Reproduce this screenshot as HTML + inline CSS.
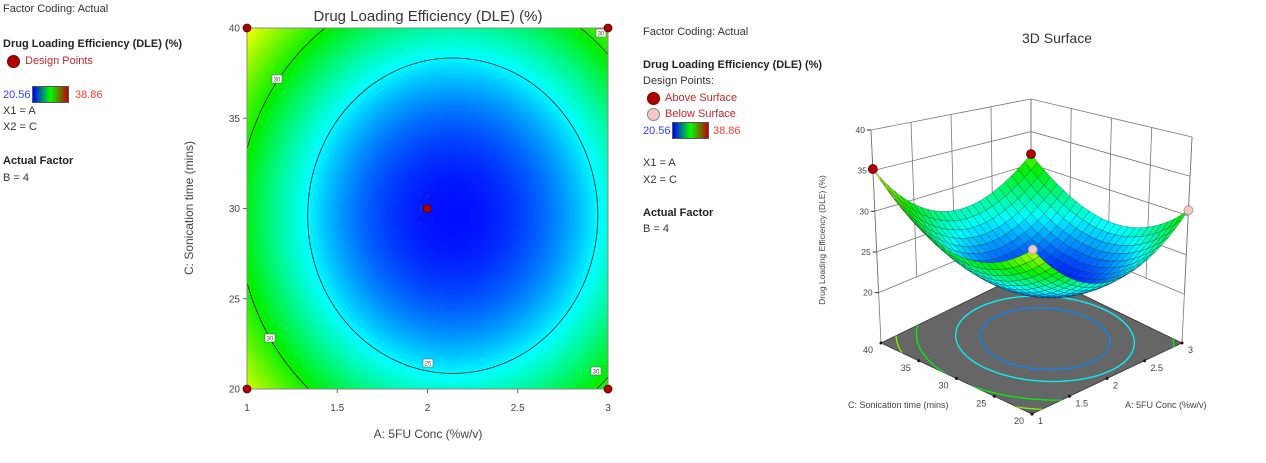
<!DOCTYPE html>
<html><head><meta charset="utf-8">
<style>
body{margin:0;width:1266px;height:463px;background:#fff;font-family:"Liberation Sans",sans-serif;overflow:hidden;position:relative}
.t{position:absolute;font-size:11px;color:#333;white-space:nowrap;line-height:13px}
.b{font-weight:bold;color:#222}
.r{color:#c0282d}
.dot{position:absolute;width:11px;height:11px;border-radius:50%;background:#b00000;border:1px solid #700}
.cb{position:absolute;width:37px;height:17px;background:linear-gradient(to right,#0000ff,#00ff00 50%,#c00000);border:1px solid #555;box-sizing:border-box}
svg{position:absolute;left:0;top:0}
</style></head><body>
<div class="t" style="left:3px;top:3px">Factor Coding: Actual</div>
<div class="t b" style="left:3px;top:38px">Drug Loading Efficiency (DLE) (%)</div>
<div class="dot" style="left:7px;top:55px"></div>
<div class="t r" style="left:25px;top:55px">Design Points</div>
<div class="t" style="left:3px;top:89px;color:#3a3aff">20.56</div>
<div class="cb" style="left:32px;top:86px"></div>
<div class="t" style="left:75px;top:89px;color:#ff3a3a">38.86</div>
<div class="t" style="left:3px;top:105px">X1 = A</div>
<div class="t" style="left:3px;top:121px">X2 = C</div>
<div class="t b" style="left:3px;top:155px">Actual Factor</div>
<div class="t" style="left:3px;top:172px">B = 4</div>

<div class="t" style="left:643px;top:26px">Factor Coding: Actual</div>
<div class="t b" style="left:643px;top:59px">Drug Loading Efficiency (DLE) (%)</div>
<div class="t" style="left:643px;top:75px">Design Points:</div>
<div class="dot" style="left:647px;top:92px"></div>
<div class="t r" style="left:665px;top:92px">Above Surface</div>
<div class="dot" style="left:647px;top:108px;background:#f7c8c8;border-color:#888"></div>
<div class="t r" style="left:665px;top:108px">Below Surface</div>
<div class="t" style="left:643px;top:125px;color:#3a3aff">20.56</div>
<div class="cb" style="left:672px;top:122px"></div>
<div class="t" style="left:713px;top:125px;color:#ff3a3a">38.86</div>
<div class="t" style="left:643px;top:157px">X1 = A</div>
<div class="t" style="left:643px;top:174px">X2 = C</div>
<div class="t b" style="left:643px;top:207px">Actual Factor</div>
<div class="t" style="left:643px;top:223px">B = 4</div>

<canvas id="heat" width="361" height="361" style="position:absolute;left:247px;top:28px"></canvas>
<svg id="sv" width="1266" height="463"></svg>

<script>
// model data (quadratic response surface, B = 4)
const modelCenter = [2.14, 29.6];   // A, C at minimum
const modelMin = [20.8];
const curvature = [6.5, 5.5];       // per coded unit^2 (A, C)
const colorRange = [20.56, 38.86];
const contourLevels = [25, 30];
const floorLevels = [23, 25, 29.5, 32.5, 35];
const designA = [1, 3, 1, 3, 2];
const designC = [40, 40, 20, 20, 30];
const designAbove = [1, 1, 0, 0, 1];
const xTicks = [1, 1.5, 2, 2.5, 3];
const yTicks = [20, 25, 30, 35, 40];
const zTicks = [20, 25, 30, 35, 40];

function f(a, c) {
  const A = a - modelCenter[0], C = (c - modelCenter[1]) / 10;
  return modelMin[0] + curvature[0] * A * A + curvature[1] * C * C;
}
const stops = [[0,[0,0,255]],[0.25,[0,255,255]],[0.5,[0,240,0]],[0.8,[255,255,0]],[1,[255,0,0]]];
function cmap(v) {
  let t = (v - colorRange[0]) / (colorRange[1] - colorRange[0]);
  t = Math.max(0, Math.min(1, t));
  for (let i = 1; i < stops.length; i++) {
    if (t <= stops[i][0]) {
      const [t0, c0] = stops[i-1], [t1, c1] = stops[i];
      const k = (t - t0) / (t1 - t0);
      return c0.map((x, j) => Math.round(x + (c1[j] - x) * k));
    }
  }
  return stops[stops.length-1][1];
}
const rgb = c => `rgb(${c[0]},${c[1]},${c[2]})`;
const NS = "http://www.w3.org/2000/svg";
const sv = document.getElementById('sv');
function el(tag, attrs, parent) {
  const e = document.createElementNS(NS, tag);
  for (const k in attrs) e.setAttribute(k, attrs[k]);
  (parent || sv).appendChild(e);
  return e;
}
function txt(x, y, s, size, anchor, parent, extra) {
  const e = el('text', Object.assign({x, y, 'font-size': size, 'text-anchor': anchor || 'middle', fill: '#444', 'font-family': 'Liberation Sans, sans-serif'}, extra || {}), parent);
  e.textContent = s;
  return e;
}

// ---------- contour plot ----------
const PX = 247, PY = 28, PW = 361, PH = 361;
const xs = a => PX + (a - 1) / 2 * PW;
const ys = c => PY + (40 - c) / 20 * PH;
const cv = document.getElementById('heat').getContext('2d');
const img = cv.createImageData(PW, PH);
for (let j = 0; j < PH; j++) for (let i = 0; i < PW; i++) {
  const col = cmap(f(1 + 2 * i / (PW - 1), 40 - 20 * j / (PH - 1)));
  const p = (j * PW + i) * 4;
  img.data[p] = col[0]; img.data[p+1] = col[1]; img.data[p+2] = col[2]; img.data[p+3] = 255;
}
cv.putImageData(img, 0, 0);

const defs = el('defs', {});
const cp = el('clipPath', {id: 'plotclip'}, defs);
el('rect', {x: PX, y: PY, width: PW, height: PH}, cp);
const cg = el('g', {'clip-path': 'url(#plotclip)'});


contourLevels.forEach(L => {
  const ra = Math.sqrt((L - modelMin[0]) / curvature[0]);
  const rc = Math.sqrt((L - modelMin[0]) / curvature[1]) * 10;
  const e = el('ellipse', {cx: xs(modelCenter[0]), cy: ys(modelCenter[1]), rx: ra * PW / 2, ry: rc * PH / 20, fill: 'none', stroke: '#222', 'stroke-width': 0.8}, cg);
  
  
});
[[277,79,'30'],[270,338,'30'],[601,33,'30'],[596,371,'30'],[428,363,'25']].forEach(l => {
  const g = el('g', {});
  
  
  el('rect', {x: l[0]-5, y: l[1]-4, width: 10, height: 8, fill: '#fff', stroke: '#555', 'stroke-width': 0.5}, g);
  txt(l[0], l[1]+2.5, l[2], 6, 'middle', g);
});
el('rect', {x: PX, y: PY, width: PW, height: PH, fill: 'none', stroke: '#888', 'stroke-width': 1});
xTicks.forEach(a => {
  el('line', {x1: xs(a), x2: xs(a), y1: PY + PH, y2: PY + PH + 4, stroke: '#666'});
  const t = txt(xs(a), 411, String(a), 10, 'middle');
  
  
});
yTicks.forEach(c => {
  el('line', {x1: PX - 4, x2: PX, y1: ys(c), y2: ys(c), stroke: '#666'});
  const t = txt(PX - 7, ys(c) + 3.5, String(c), 10, 'end');
  
  
});
const ttl = txt(428, 21, 'Drug Loading Efficiency (DLE) (%)', 15, 'middle', null, {fill: '#333'});


const xl = txt(428, 438, 'A: 5FU Conc (%w/v)', 12, 'middle');


const yl = txt(0, 0, 'C: Sonication time (mins)', 12, 'middle', null, {transform: 'translate(193,208) rotate(-90)'});


designA.forEach((a, i) => {
  const d = el('circle', {cx: xs(a), cy: ys(designC[i]), r: 4, fill: '#b00000', stroke: '#500', 'stroke-width': 0.8});
  
  
});
txt(xs(2) - 6, ys(30) + 2, '5', 6, 'middle');

// ---------- 3D surface ----------
const zf = 13.8;
const B = {f: [1032,414], r: [1182,343], l: [881,343], b: [1031,270]};
const T = {f: [1033,204], r: [1192,137], l: [871,130], b: [1031,99]};
function bil(Q, u, v) {
  return [0,1].map(k => Q.f[k]*(1-u)*(1-v) + Q.r[k]*u*(1-v) + Q.l[k]*(1-u)*v + Q.b[k]*u*v);
}
function P(a, c, z) {
  const u = (a - 1) / 2, v = (c - 20) / 20, w = (z - zf) / (40 - zf);
  const p0 = bil(B, u, v), p1 = bil(T, u, v);
  return [p0[0] + (p1[0] - p0[0]) * w, p0[1] + (p1[1] - p0[1]) * w];
}
const pts = arr => arr.map(p => p[0].toFixed(1) + ',' + p[1].toFixed(1)).join(' ');
const wg = el('g', {stroke: '#777', 'stroke-width': 0.8, fill: 'none'});


xTicks.forEach(a => { const p = P(a, 40, 20), q = P(a, 40, 40); el('line', {x1: p[0], y1: p[1], x2: q[0], y2: q[1]}, wg); });
[20,25,30,35,40].forEach(c => { const p = P(3, c, 20), q = P(3, c, 40); el('line', {x1: p[0], y1: p[1], x2: q[0], y2: q[1]}, wg); });
zTicks.forEach(z => {
  const p = P(1, 40, z), q = P(3, 40, z), r = P(3, 20, z);
  el('polyline', {points: pts([p, q, r])}, wg);
});
[[1,40],[3,40],[3,20]].forEach(([a, c]) => { const p = P(a, c, zf), q = P(a, c, 40); el('line', {x1: p[0], y1: p[1], x2: q[0], y2: q[1]}, wg); });
zTicks.forEach(z => {
  const p = P(1, 40, z);
  el('line', {x1: p[0] - 4, y1: p[1], x2: p[0], y2: p[1], stroke: '#333'});
  const t = txt(p[0] - 6, p[1] + 3, String(z), 8.5, 'end');
  
  
});
const floorPts = [P(1,20,zf), P(3,20,zf), P(3,40,zf), P(1,40,zf)];
const fl = el('polygon', {points: pts(floorPts), fill: '#666', stroke: '#333', 'stroke-width': 0.8});


const fcp = el('clipPath', {id: 'floorclip'}, defs);
el('polygon', {points: pts(floorPts)}, fcp);
const fg = el('g', {'clip-path': 'url(#floorclip)', fill: 'none', 'stroke-width': 1.3});


floorLevels.forEach(L => {
  const ra = Math.sqrt((L - modelMin[0]) / curvature[0]);
  const rc = Math.sqrt((L - modelMin[0]) / curvature[1]) * 10;
  const arr = [];
  for (let k = 0; k <= 120; k++) {
    const t = k / 120 * 2 * Math.PI;
    arr.push(P(modelCenter[0] + ra * Math.cos(t), modelCenter[1] + rc * Math.sin(t), zf));
  }
  el('polyline', {points: pts(arr), stroke: rgb(cmap(L))}, fg);
});
yTicks.forEach(c => {
  const p = P(1, c, zf);
  el('circle', {cx: p[0], cy: p[1], r: 1.5, fill: '#111'});
  const t = txt(p[0] - 8, p[1] + 10, String(c), 9, 'end');
  
  
});
xTicks.forEach(a => {
  const p = P(a, 20, zf);
  el('circle', {cx: p[0], cy: p[1], r: 1.5, fill: '#111'});
  const t = txt(p[0] + 6, p[1] + 10, String(a), 9, 'start');
  
  
});
const N = 24, quads = [];
for (let i = 0; i < N; i++) for (let j = 0; j < N; j++) {
  const a0 = 1 + 2 * i / N, a1 = 1 + 2 * (i + 1) / N, c0 = 20 + 20 * j / N, c1 = 20 + 20 * (j + 1) / N;
  const am = (a0 + a1) / 2, cm = (c0 + c1) / 2;
  quads.push({d: (am - 1) / 2 + (cm - 20) / 20, v: f(am, cm), p: [P(a0,c0,f(a0,c0)), P(a1,c0,f(a1,c0)), P(a1,c1,f(a1,c1)), P(a0,c1,f(a0,c1))]});
}
quads.sort((x, y) => y.d - x.d);
const sg = el('g', {stroke: 'rgba(20,40,40,0.55)', 'stroke-width': 0.5});


quads.forEach(q => el('polygon', {points: pts(q.p), fill: rgb(cmap(q.v))}, sg));
designA.forEach((a, i) => {
  if (a === 2) return;
  const p = P(a, designC[i], f(a, designC[i]));
  const d = el('circle', {cx: p[0], cy: p[1], r: 4.5, fill: designAbove[i] ? '#b00000' : '#f5c6c6', stroke: designAbove[i] ? '#500' : '#999', 'stroke-width': 0.8});
  
  
});
const t3 = txt(1057, 43, '3D Surface', 14, 'middle', null, {fill: '#333'});


const cl = txt(848, 408, 'C: Sonication time (mins)', 9, 'start');


const al = txt(1125, 408, 'A: 5FU Conc (%w/v)', 9, 'start');


const zl = txt(0, 0, 'Drug Loading Efficiency (DLE) (%)', 8.5, 'middle', null, {transform: 'translate(825,240) rotate(-90)'});


</script>
</body></html>
